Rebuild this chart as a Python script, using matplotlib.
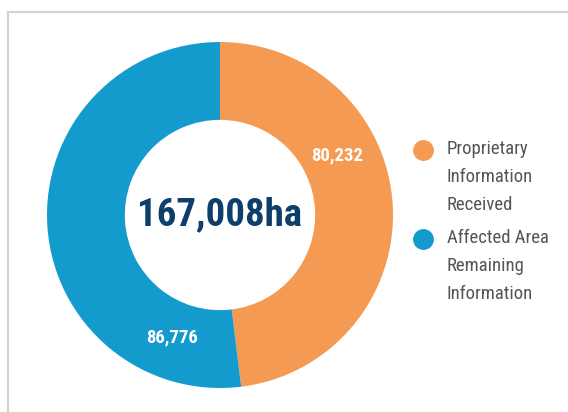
import matplotlib.pyplot as plt
import numpy as np
from matplotlib.lines import Line2D

labels = ["Proprietary\nInformation\nReceived", "Affected Area\nRemaining\nInformation"]
values = [80232, 86776]
value_text = ["80,232", "86,776"]
colors = ["#F59A52", "#149BCE"]
total_text = "167,008ha"

plt.rcParams['font.family'] = ['Roboto Condensed', 'DejaVu Sans']
plt.rcParams['font.stretch'] = 'condensed'

W, H = 568, 412
fig = plt.figure(figsize=(W / 100, H / 100), dpi=100)

# donut centre (220, 215) px, radius 173 px
cx, cy, r = 220, 215, 173
ax = fig.add_axes([(cx - r) / W, (H - cy - r) / H, 2 * r / W, 2 * r / H])
ax.pie(values, colors=colors, startangle=90, counterclock=False,
       radius=1, wedgeprops=dict(width=0.45, linewidth=0))
ax.set_xlim(-1, 1)
ax.set_ylim(-1, 1)
ax.set_aspect('equal')
ax.axis('off')

ax.text(0, 0, total_text, ha='center', va='center', fontsize=28,
        fontweight='bold', color='#0E3F6B')

# value labels inside the ring
for txt, ang in zip(value_text, [27, 248.5]):
    a = np.deg2rad(ang)
    ax.text(0.76 * np.cos(a), 0.76 * np.sin(a), txt, ha='center', va='center',
            fontsize=13.5, fontweight='bold', color='white')

# legend drawn by hand
for i, (lab, col) in enumerate(zip(labels, colors)):
    y = [150, 239][i]
    fig.add_artist(Line2D([423 / W], [1 - y / H], marker='o', markersize=14,
                          color=col, transform=fig.transFigure))
    fig.text(447 / W, 1 - (y - 10) / H, lab, ha='left', va='top',
             fontsize=13.5, color='#555555', linespacing=1.7)

# light frame on top/left
fig.add_artist(Line2D([7.5 / W, 7.5 / W], [0, 1 - 12 / H], color='#D3D3D3',
                      linewidth=1.5, transform=fig.transFigure))
fig.add_artist(Line2D([7.5 / W, 1], [1 - 12 / H, 1 - 12 / H], color='#D3D3D3',
                      linewidth=1.5, transform=fig.transFigure))

fig.savefig("out.png", dpi=100)
